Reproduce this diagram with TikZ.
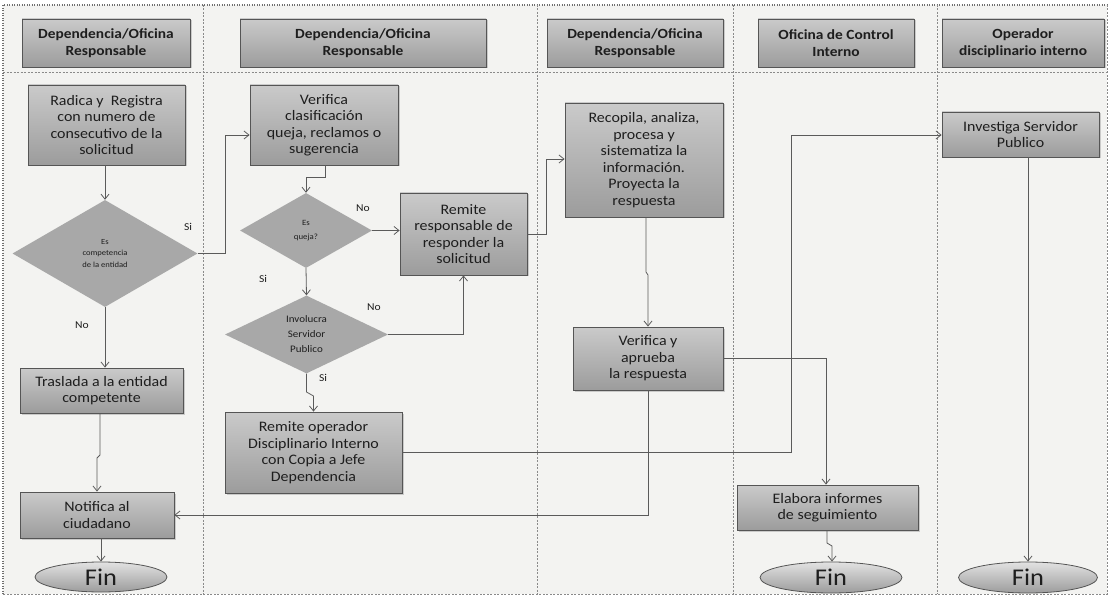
\documentclass[tikz,border=0pt]{standalone}
\usepackage{fontspec}
\setmainfont{Carlito}[FakeStretch=1.1]
\usetikzlibrary{arrows.meta,shadows,shapes.geometric,calc}
\definecolor{pagebg}{HTML}{F3F3F1}
\definecolor{boxtop}{HTML}{CACACA}
\definecolor{boxbot}{HTML}{9C9C9C}
\definecolor{fintop}{HTML}{E2E2E2}
\definecolor{boxline}{HTML}{555555}
\definecolor{diafill}{HTML}{A8A8A8}
\definecolor{lanecol}{HTML}{8A8A8A}
\definecolor{conncol}{HTML}{5A5A5A}
\definecolor{txtcol}{HTML}{1E1E1E}
\begin{document}
\begin{tikzpicture}[x=1pt,y=-1pt,
  procbox/.style={draw=boxline, line width=0.8pt, top color=boxtop, bottom color=boxbot,
     drop shadow={shadow xshift=1.5pt, shadow yshift=-1.5pt, opacity=0.35},
     align=center, inner sep=1pt, font=\fontsize{14.5}{16.5}\selectfont, text=txtcol},
  headbox/.style={procbox, font=\bfseries\fontsize{14}{16.5}\selectfont},
  decbox/.style={diamond, draw=none, fill=diafill, inner sep=0pt, align=center, text=txtcol},
  finbox/.style={ellipse, draw=boxline, line width=0.8pt, top color=fintop, bottom color=boxbot,
     inner sep=0pt, font=\fontsize{24}{26}\selectfont, text=txtcol},
  conn/.style={draw=conncol, line width=0.8pt, -{Straight Barb[length=5pt,width=8pt]}},
  lbl/.style={font=\fontsize{10.5}{12}\selectfont, text=txtcol},
  lane/.style={draw=lanecol, line width=0.5pt, dash pattern=on 2pt off 1.5pt},
  frame/.style={draw=lanecol!80!black, line width=1.2pt, dash pattern=on 1pt off 1.5pt}
]
\useasboundingbox (0,0) rectangle (1109,596);
\fill[white] (0,0) rectangle (1109,596);
\fill[pagebg] (3,5) rectangle (1107,594);
% frame and lanes
\draw[frame] (3,594) -- (3,5) -- (1107,5);
\draw[lane] (1107,5) -- (1107,594) -- (3,594);
\draw[lane] (3,72) -- (1107,72);
\foreach \lx in {203,537,733,937} \draw[lane] (\lx,5) -- (\lx,594);

% headers
\node[headbox, minimum width=168pt, minimum height=48pt] (h1) at (106,43) {Dependencia/Oficina\\Responsable};
\node[headbox, minimum width=246pt, minimum height=48pt] (h2) at (363,43) {Dependencia/Oficina\\Responsable};
\node[headbox, minimum width=176pt, minimum height=48pt] (h3) at (635,43) {Dependencia/Oficina\\Responsable};
\node[headbox, minimum width=156pt, minimum height=48pt] (h4) at (836,43) {Oficina de Control\\Interno};
\node[headbox, minimum width=162pt, minimum height=48pt] (h5) at (1023,43) {Operador\\disciplinario interno};

% process nodes
\node[procbox, minimum width=157pt, minimum height=80pt] (radica) at (106.5,125) {Radica y \ Registra\\con numero de\\consecutivo de la\\solicitud};
\node[decbox, minimum width=185pt, minimum height=107pt, font=\fontsize{7.8}{11.5}\selectfont] (d1) at (105,253.5) {Es\\competencia\\de la entidad};
\node[procbox, minimum width=163pt, minimum height=45pt] (trasada) at (101.5,390.5) {Traslada a la entidad\\competente};
\node[procbox, minimum width=154pt, minimum height=46pt] (notifica) at (97,515) {Notifica al\\ciudadano};
\node[finbox, minimum width=132pt, minimum height=30pt] (fin1) at (101,577) {Fin};

\node[procbox, minimum width=148pt, minimum height=80pt] (verifica) at (324,125) {Verifica\\clasificación\\queja, reclamos o\\sugerencia};
\node[decbox, minimum width=132pt, minimum height=75pt, font=\fontsize{8}{14}\selectfont] (d2) at (306,230.5) {Es\\queja?};
\node[procbox, minimum width=127pt, minimum height=82pt] (remresp) at (463.5,234) {Remite\\responsable de\\responder la\\solicitud};
\node[decbox, minimum width=163pt, minimum height=75pt, font=\fontsize{10}{15}\selectfont] (d3) at (306.5,334.5) {Involucra\\Servidor\\Publico};
\node[procbox, minimum width=177pt, minimum height=81pt] (remop) at (313.5,452.5) {Remite operador\\Disciplinario Interno\\con Copia a Jefe\\Dependencia};

\node[procbox, minimum width=158pt, minimum height=114pt] (recopila) at (644,160) {Recopila, analiza,\\procesa y\\sistematiza la\\información.\\Proyecta la\\respuesta};
\node[procbox, minimum width=150pt, minimum height=63pt] (vya) at (648,358.5) {Verifica y\\aprueba\\la respuesta};

\node[procbox, minimum width=181pt, minimum height=45pt] (elabora) at (827.5,507.5) {Elabora informes\\de seguimiento};
\node[finbox, minimum width=142pt, minimum height=31pt] (fin2) at (831,577.5) {Fin};

\node[procbox, minimum width=157pt, minimum height=45pt] (investiga) at (1020.5,134.5) {Investiga Servidor\\Publico};
\node[finbox, minimum width=139pt, minimum height=31pt] (fin3) at (1028,577.5) {Fin};

% helper coordinates
\coordinate (c1a) at (225,253.5);
\coordinate (c1b) at (225,135);
\coordinate (c2a) at (100,455);
\coordinate (c2b) at (97,458);
\coordinate (c3a) at (325,177);
\coordinate (c3b) at (306,177);
\coordinate (c4a) at (463.5,334.5);
\coordinate (c5a) at (306.5,392);
\coordinate (c5b) at (313.5,396);
\coordinate (c6a) at (546,234);
\coordinate (c6b) at (546,159);
\coordinate (c7a) at (646,272);
\coordinate (c7b) at (648,275);
\coordinate (c8a) at (826,358);
\coordinate (c9a) at (648,515);
\coordinate (c10a) at (791,452);
\coordinate (c10b) at (791,135);
\coordinate (c11a) at (827,543);
\coordinate (c11b) at (832,546);

% connectors
\draw[conn] (radica.south -| d1.north) -- (d1.north);
\draw[conn] (d1.east) -- (c1a) -- (c1b) -- (verifica.west |- c1b);
\draw[conn] (d1.south) -- (d1.south |- trasada.north);
\draw[conn] (trasada.south -| c2a) -- (c2a) -- (c2b) -- (notifica.north -| c2b);
\draw[conn] (notifica.south -| fin1.north) -- (fin1.north);
\draw[conn] (verifica.south -| c3a) -- (c3a) -- (c3b) -- (d2.north);
\draw[conn] (d2.east) -- (remresp.west |- d2.east);
\draw[conn] (d2.south) -- (d3.north);
\draw[conn] (d3.east) -- (c4a) -- (remresp.south);
\draw[conn] (d3.south) -- (c5a) -- (c5b) -- (remop.north);
\draw[conn] (remresp.east |- c6a) -- (c6a) -- (c6b) -- (recopila.west |- c6b);
\draw[conn] (recopila.south -| c7a) -- (c7a) -- (c7b) -- (vya.north -| c7b);
\draw[conn] (vya.east |- c8a) -- (c8a) -- (elabora.north -| c8a);
\draw[conn] (vya.south -| c9a) -- (c9a) -- (notifica.east |- c9a);
\draw[conn] (remop.east |- c10a) -- (c10a) -- (c10b) -- (investiga.west |- c10b);
\draw[conn] (investiga.south -| fin3.north) -- (fin3.north);
\draw[conn] (elabora.south -| c11a) -- (c11a) -- (c11b) -- (fin2.north -| c11b);

% labels
\node[lbl] (lsi1) at (188,227) {Si};
\node[lbl] (lno1) at (82,325) {No};
\node[lbl] (lno2) at (363,208) {No};
\node[lbl] (lsi2) at (263,279) {Si};
\node[lbl] (lno3) at (374,307) {No};
\node[lbl] (lsi3) at (323,378) {Si};
\end{tikzpicture}
\end{document}
